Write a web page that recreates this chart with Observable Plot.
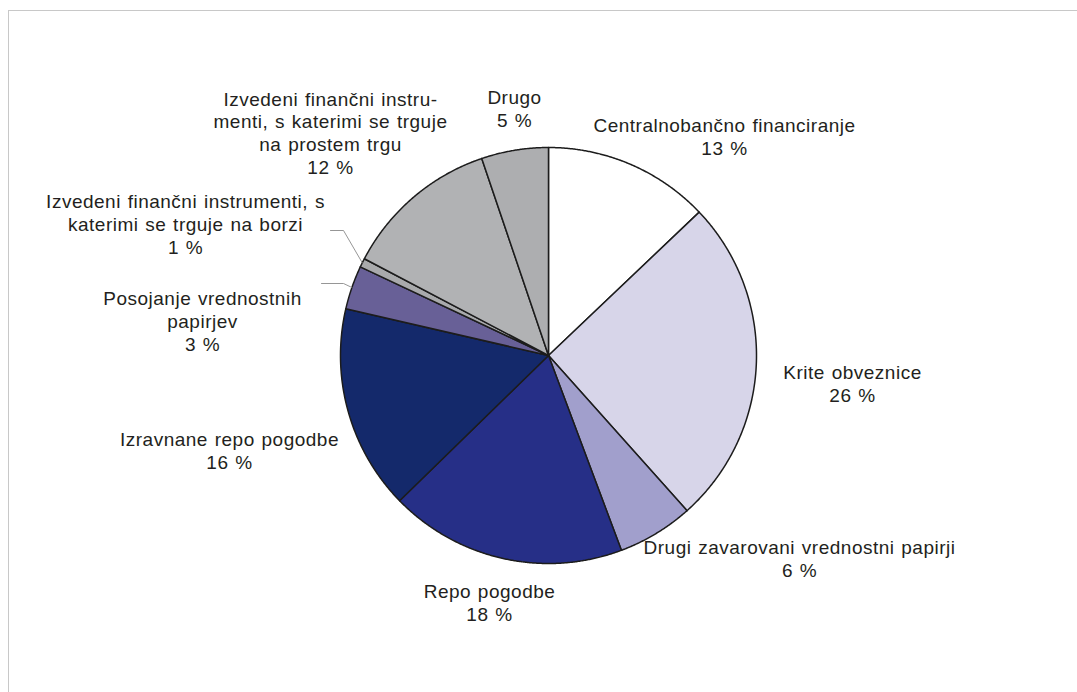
<!DOCTYPE html>
<html><head><meta charset="utf-8">
<script src="https://cdn.jsdelivr.net/npm/d3@7"></script>
<script src="https://cdn.jsdelivr.net/npm/@observablehq/plot@0.6"></script>
<style>
body{margin:0;background:#fff;}
#wrap{position:relative;width:1077px;height:692px;overflow:hidden;background:#fff}
#frame{position:absolute;left:8px;top:10px;width:1100px;height:700px;border-top:1.5px solid #c8c8c8;border-left:1.5px solid #c8c8c8;pointer-events:none}
#chart{position:absolute;left:0;top:0}
</style></head><body><div id="wrap"><div id="chart"></div><div id="frame"></div></div>
<script>
// ---- data ----
const categories = [
  "Centralnobančno financiranje",
  "Krite obveznice",
  "Drugi zavarovani vrednostni papirji",
  "Repo pogodbe",
  "Izravnane repo pogodbe",
  "Posojanje vrednostnih papirjev",
  "Izvedeni finančni instrumenti, s katerimi se trguje na borzi",
  "Izvedeni finančni instrumenti, s katerimi se trguje na prostem trgu",
  "Drugo"
];
const shares = [12.9, 25.5, 5.9, 18.4, 15.9, 3.4, 0.7, 12.1, 5.2];
const labelLines = [
  ["Centralnobančno financiranje"],
  ["Krite obveznice"],
  ["Drugi zavarovani vrednostni papirji"],
  ["Repo pogodbe"],
  ["Izravnane repo pogodbe"],
  ["Posojanje vrednostnih", "papirjev"],
  ["Izvedeni finančni instrumenti, s", "katerimi se trguje na borzi"],
  ["Izvedeni finančni instru-", "menti, s katerimi se trguje", "na prostem trgu"],
  ["Drugo"]
];
const sliceColors = ["#ffffff", "#d7d5e9", "#a19fcc", "#262f87", "#14296b", "#686097", "#a9aaac", "#b1b2b4", "#adaeb0"];

// ---- layout (pixels) ----
const W = 1077, H = 692, CX = 548, CY = 355, R = 208;
const labelCenters = [[724,136],[852,383],[799,558],[489,602],[229,450],[202,320],[185,223],[330,132],[514,108]];
const leaders = { 6: [[330,230],[343,230]], 5: [[321,283],[343,283]] };

const toX = px => (px - CX) / R, toY = py => (CY - py) / R;

const rows = categories.map((c, i) => ({name: c, value: shares[i], i}));
const arcs = d3.pie().sort(null).value(d => d.value).startAngle(0).endAngle(2 * Math.PI)(rows);

const pts = [];
arcs.forEach(a => {
  const n = Math.max(4, Math.ceil((a.endAngle - a.startAngle) / 0.005));
  pts.push({name: a.data.name, x: 0, y: 0});
  for (let k = 0; k <= n; k++) {
    const t = a.startAngle + (a.endAngle - a.startAngle) * k / n;
    pts.push({name: a.data.name, x: Math.sin(t), y: Math.cos(t)});
  }
  pts.push({name: a.data.name, x: 0, y: 0});
});

const labels = arcs.map((a, i) => ({
  x: toX(labelCenters[i][0]), y: toY(labelCenters[i][1]),
  text: labelLines[i].join("\n") + "\n" + Math.round(a.data.value) + " %"
}));

const leaderPts = [];
Object.entries(leaders).forEach(([i, path]) => {
  const a = arcs[+i], mid = (a.startAngle + a.endAngle) / 2;
  path.forEach(p => leaderPts.push({id: i, x: toX(p[0]), y: toY(p[1])}));
  leaderPts.push({id: i, x: Math.sin(mid), y: Math.cos(mid)});
});

const plot = Plot.plot({
  width: W, height: H,
  marginTop: 0, marginRight: 0, marginBottom: 0, marginLeft: 0,
  x: {domain: [toX(0), toX(W)], axis: null},
  y: {domain: [toY(H), toY(0)], axis: null},
  color: {domain: categories, range: sliceColors},
  style: {background: "transparent", fontFamily: "'Liberation Sans', Arial, sans-serif", letterSpacing: "0.5px", wordSpacing: "1px"},
  marks: [
    Plot.line(pts, {x: "x", y: "y", z: "name", fill: "name", stroke: "#1c1c1c", strokeWidth: 1.5, strokeLinejoin: "round"}),
    Plot.line(leaderPts, {x: "x", y: "y", z: "id", stroke: "#8a8a8a", strokeWidth: 0.9}),
    Plot.text(labels, {x: "x", y: "y", text: "text", fontSize: 19, lineHeight: 1.2, lineAnchor: "middle", textAnchor: "middle", fill: "#231f20"})
  ]
});
document.getElementById("chart").appendChild(plot);
</script>
</body></html>
